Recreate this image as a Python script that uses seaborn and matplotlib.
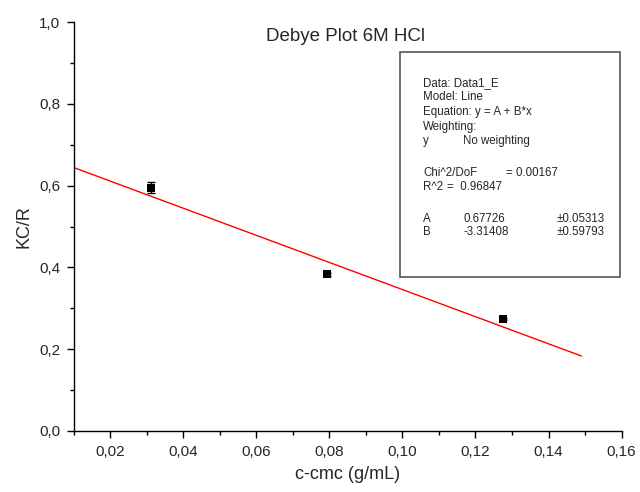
import matplotlib
matplotlib.use("Agg")
import matplotlib.pyplot as plt
import seaborn as sns
import pandas as pd
from matplotlib.ticker import MultipleLocator, FuncFormatter
from matplotlib.patches import Rectangle

# data
conc = [0.0311, 0.0793, 0.1275]
kcr = [0.595, 0.383, 0.274]
kcr_err = [0.013, 0.003, 0.003]
fit_A = 0.67726
fit_B = -3.31408
fit_x = [0.01, 0.149]

sns.set_theme(style="ticks")
plt.rcParams['font.family'] = ['Liberation Sans', 'DejaVu Sans']

fig = plt.figure(figsize=(6.4, 4.92), dpi=100)
ax = fig.add_axes([0.1156, 0.124, 0.8555, 0.831])

df = pd.DataFrame({"x": conc, "y": kcr})
fit_df = pd.DataFrame({"x": fit_x, "y": [fit_A + fit_B * v for v in fit_x]})

sns.lineplot(data=fit_df, x="x", y="y", color="red", linewidth=1.0, ax=ax)
ax.errorbar(conc, kcr, yerr=kcr_err, fmt="none", ecolor="black", elinewidth=1, capsize=3, capthick=1)
sns.scatterplot(data=df, x="x", y="y", marker="s", color="black", s=30, edgecolor="black", linewidth=0, ax=ax, zorder=5)

ax.set_xlim(0.01, 0.16)
ax.set_ylim(0.0, 1.0)
ax.xaxis.set_major_locator(MultipleLocator(0.02))
ax.xaxis.set_minor_locator(MultipleLocator(0.01))
ax.yaxis.set_major_locator(MultipleLocator(0.2))
ax.yaxis.set_minor_locator(MultipleLocator(0.1))
ax.xaxis.set_major_formatter(FuncFormatter(lambda v, p: f"{v:.2f}".replace(".", ",")))
ax.yaxis.set_major_formatter(FuncFormatter(lambda v, p: f"{v:.1f}".replace(".", ",")))
ax.tick_params(axis="both", which="major", length=5, width=1, labelsize=11, direction="out", color="black", pad=5)
ax.tick_params(axis="both", which="minor", length=3, width=1, direction="out", color="black")
for s in ["top", "right"]:
    ax.spines[s].set_visible(False)
for s in ["left", "bottom"]:
    ax.spines[s].set_linewidth(1.0)
    ax.spines[s].set_color("black")

ax.set_xlabel("c-cmc (g/mL)", fontsize=13, labelpad=5)
ax.set_ylabel("KC/R", fontsize=13, labelpad=5)

ax.text(0.0843, 0.965, "Debye Plot 6M HCl", ha="center", va="center", fontsize=13.5)

# fit info box
box = Rectangle((400 / 640, 1 - 277 / 492), 220 / 640, 225 / 492, transform=fig.transFigure,
                facecolor="white", edgecolor="#555555", linewidth=1.2, zorder=10)
fig.patches.append(box)
fs = 8.3
px = lambda x: x / 640
py = lambda y: 1 - y / 492
rows = [
    (83, [(423, "Data: Data1_E")]),
    (97, [(423, "Model: Line")]),
    (112, [(423, "Equation: y = A + B*x")]),
    (127, [(423, "Weighting:")]),
    (141, [(423, "y"), (463, "No weighting")]),
    (173, [(423, "Chi^2/DoF"), (506, "= 0.00167")]),
    (187, [(423, "R^2"), (447, "=  0.96847")]),
    (219, [(423, "A"), (463, "0.67726"), (557, "\u00b10.05313")]),
    (232, [(423, "B"), (463, "-3.31408"), (557, "\u00b10.59793")]),
]
for yy, items in rows:
    for xx, s in items:
        fig.text(px(xx), py(yy), s, fontsize=fs, va="center", ha="left", zorder=11)

fig.savefig("out.png", dpi=100)
